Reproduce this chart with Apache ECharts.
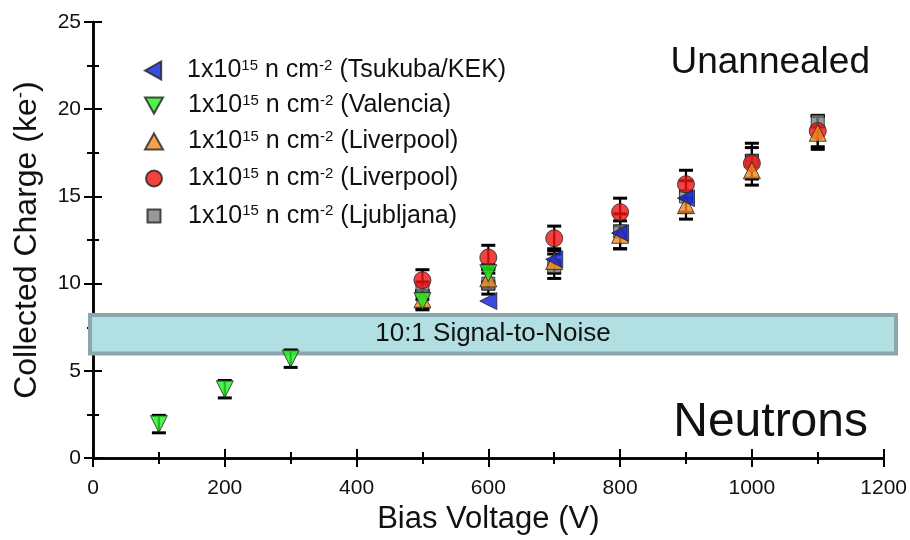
<!DOCTYPE html>
<html>
<head>
<meta charset="utf-8">
<script src="https://cdn.jsdelivr.net/npm/echarts@6/dist/echarts.min.js"></script>
<style>
html,body{margin:0;padding:0;background:#fff;}
#chart{width:910px;height:540px;}
</style>
</head>
<body>
<div id="chart"></div>
<script>
// ---- data ----
const xTicks = [0, 200, 400, 600, 800, 1000, 1200];
const yTicks = [0, 5, 10, 15, 20, 25];

const voltTsukuba = [600, 700, 800, 900];
const chargeTsukuba = [9.0, 11.4, 12.9, 14.9];
const errTsukuba = [0, 0, 0, 0];

const voltValencia = [100, 200, 300, 500, 600];
const chargeValencia = [1.95, 3.95, 5.7, 9.0, 10.6];
const errValencia = [0.5, 0.5, 0.5, 0.5, 0.5];

const voltLivOrange = [500, 600, 700, 800, 900, 1000, 1100];
const chargeLivOrange = [9.1, 10.3, 11.3, 12.8, 14.5, 16.5, 18.65];
const errLivOrange = [0.5, 0.6, 0.7, 0.8, 0.8, 0.85, 0.95];

const voltLivRed = [500, 600, 700, 800, 900, 1000, 1100];
const chargeLivRed = [10.2, 11.5, 12.6, 14.1, 15.7, 16.9, 18.75];
const errLivRed = [0.6, 0.7, 0.7, 0.8, 0.8, 0.9, 0.9];

const voltLjubljana = [500, 600, 700, 800, 900, 1000, 1100];
const chargeLjubljana = [9.6, 10.0, 11.0, 13.0, 15.0, 17.05, 19.3];
const errLjubljana = [0.5, 0.6, 0.7, 1.0, 0.9, 1.0, 0.3];

const legendLabels = {
  tsu: '(Tsukuba/KEK)',
  val: '(Valencia)',
  livO: '(Liverpool)',
  livR: '(Liverpool)',
  lju: '(Ljubljana)'
};
const bandRange = [6.0, 8.2];
const bandLabel = '10:1 Signal-to-Noise';
const textTop = 'Unannealed';
const textBottom = 'Neutrons';

// ---- build ----
const FONT = 'Liberation Sans, Arial, sans-serif';
function zip(xs, ys) { return xs.map((x, i) => [x, ys[i]]); }
function errData(xs, ys, es) {
  return xs.map((x, i) => [x, ys[i] - es[i], ys[i] + es[i]]).filter((d, i) => es[i] > 0);
}
function errRender(params, api) {
  const x = api.value(0), lo = api.value(1), hi = api.value(2);
  const a = api.coord([x, lo]), b = api.coord([x, hi]);
  const w = 7;
  const st = { stroke: '#000', lineWidth: 2.2 };
  return {
    type: 'group',
    children: [
      { type: 'line', shape: { x1: a[0], y1: a[1], x2: b[0], y2: b[1] }, style: st },
      { type: 'line', shape: { x1: a[0] - w, y1: a[1], x2: a[0] + w, y2: a[1] }, style: { stroke: '#000', lineWidth: 3 } },
      { type: 'line', shape: { x1: b[0] - w, y1: b[1], x2: b[0] + w, y2: b[1] }, style: { stroke: '#000', lineWidth: 3 } }
    ]
  };
}
function errSeries(xs, ys, es, z) {
  return {
    type: 'custom', renderItem: errRender, z: z, silent: true,
    encode: { x: 0, y: [1, 2] },
    data: errData(xs, ys, es)
  };
}
const symBorder = { borderColor: '#222', borderWidth: 1 };

const ICON_LEFT = 'path://M0,5 L9,0 L9,10 Z';
const ICON_DOWN = 'path://M0,0 L10,0 L5,9 Z';
const ICON_UP = 'path://M5,0 L10,9 L0,9 Z';
const rowTops = [53, 88, 124, 160, 196];
const legendIds = ['tsu', 'val', 'livO', 'livR', 'lju'];
const legendIcons = [ICON_LEFT, ICON_DOWN, ICON_UP, 'circle', 'rect'];
const legendSizes = [18, 18, 18, 16, 13];
const legends = legendIds.map((id, i) => {
  const left = 148 - legendSizes[i] / 2;
  return {
    data: [{ name: id, icon: legendIcons[i] }],
    left: left, top: rowTops[i] + (18 - legendSizes[i]) / 2,
    orient: 'vertical',
    itemWidth: legendSizes[i], itemHeight: legendSizes[i],
    selectedMode: false,
    formatter: function (n) { return '1x10{sup|15} n cm{sup|-2} ' + legendLabels[n]; },
    textStyle: {
      fontFamily: FONT, fontSize: 25, color: '#111',
      padding: [0, 0, 0, 182 - (left + legendSizes[i] + 5)],
      rich: { sup: { fontFamily: FONT, fontSize: 15, color: '#111', verticalAlign: 'top' } }
    }
  };
});

const option = {
  animation: false,
  backgroundColor: '#fff',
  grid: { left: 93, right: 14, top: 22, bottom: 79 },
  legend: legends,
  xAxis: [{
    type: 'value', min: 0, max: 1200, interval: 200,
    name: 'Bias Voltage (V)', nameLocation: 'middle', nameGap: 45,
    nameTextStyle: { fontFamily: FONT, fontSize: 31, color: '#111' },
    axisLine: { lineStyle: { color: '#000', width: 2.5 } },
    axisTick: { inside: true, length: 9, lineStyle: { color: '#000', width: 2 } },
    minorTick: { show: true, splitNumber: 2, length: 6, lineStyle: { color: '#000', width: 2 } },
    axisLabel: { fontFamily: FONT, fontSize: 21, color: '#111', margin: 20,
      formatter: v => (xTicks.indexOf(v) >= 0 ? String(v) : '') },
    splitLine: { show: false }
  }, {
    type: 'value', min: 0, max: 1200, interval: 200, position: 'top',
    axisLine: { lineStyle: { color: '#000', width: 2.5 } },
    axisTick: { inside: true, length: 9, lineStyle: { color: '#000', width: 2 } },
    minorTick: { show: true, splitNumber: 2, length: 6, lineStyle: { color: '#000', width: 2 } },
    axisLabel: { show: false }, splitLine: { show: false }
  }],
  yAxis: [{
    type: 'value', min: 0, max: 25, interval: 5,
    name: 'Collected Charge (ke{sup|-})', nameLocation: 'middle', nameGap: 50, nameRotate: 90,
    nameTextStyle: { fontFamily: FONT, fontSize: 32, color: '#111',
      rich: { sup: { fontFamily: FONT, fontSize: 19, color: '#111', verticalAlign: 'top' } } },
    axisLine: { lineStyle: { color: '#000', width: 2.5 } },
    axisTick: { inside: true, length: 9, lineStyle: { color: '#000', width: 2 } },
    minorTick: { show: true, splitNumber: 2, length: 6, lineStyle: { color: '#000', width: 2 } },
    axisLabel: { fontFamily: FONT, fontSize: 21, color: '#111', margin: 12,
      formatter: v => (yTicks.indexOf(v) >= 0 ? String(v) : '') },
    splitLine: { show: false }
  }, {
    type: 'value', min: 0, max: 25, interval: 5, position: 'right',
    axisLine: { lineStyle: { color: '#000', width: 2.5 } },
    axisTick: { inside: true, length: 9, lineStyle: { color: '#000', width: 2 } },
    minorTick: { show: true, splitNumber: 2, length: 6, lineStyle: { color: '#000', width: 2 } },
    axisLabel: { show: false }, splitLine: { show: false }
  }],
  graphic: [
    { type: 'text', right: 40, top: 44, style: { text: textTop, fontFamily: FONT, fontSize: 37, fill: '#111' } },
    { type: 'text', right: 42, top: 399, style: { text: textBottom, fontFamily: FONT, fontSize: 48, fill: '#111' } }
  ],
  series: [
    errSeries(voltLjubljana, chargeLjubljana, errLjubljana, 2),
    errSeries(voltLivRed, chargeLivRed, errLivRed, 2),
    errSeries(voltLivOrange, chargeLivOrange, errLivOrange, 2),
    errSeries(voltValencia, chargeValencia, errValencia, 2),
    {
      name: 'lju', type: 'scatter', z: 3, symbol: 'rect', symbolSize: 13,
      itemStyle: Object.assign({ color: '#7f7f7f' }, symBorder),
      data: zip(voltLjubljana, chargeLjubljana)
    },
    {
      name: 'livR', type: 'scatter', z: 4, symbol: 'circle', symbolSize: 17,
      itemStyle: Object.assign({ color: '#ee1111' }, symBorder),
      data: zip(voltLivRed, chargeLivRed)
    },
    {
      name: 'livO', type: 'scatter', z: 5, symbol: 'triangle', symbolSize: 17,
      itemStyle: Object.assign({ color: '#f28a1e' }, symBorder),
      data: zip(voltLivOrange, chargeLivOrange)
    },
    {
      name: 'val', type: 'scatter', z: 6, symbol: 'triangle', symbolRotate: 180, symbolSize: 17,
      itemStyle: Object.assign({ color: '#22ee22' }, symBorder),
      data: zip(voltValencia, chargeValencia),
      markArea: {
        silent: true, z: 1,
        itemStyle: { color: '#b2dfe1', borderColor: '#8aa8ac', borderWidth: 4 },
        label: { show: true, position: 'inside', fontFamily: FONT, fontSize: 26, color: '#111' },
        data: [[{ yAxis: bandRange[0], x: 90, name: bandLabel }, { yAxis: bandRange[1], x: 896 }]]
      }
    },
    {
      name: 'tsu', type: 'scatter', z: 7, symbol: 'triangle', symbolRotate: 90, symbolSize: 17,
      itemStyle: Object.assign({ color: '#0a1ed2' }, symBorder),
      data: zip(voltTsukuba, chargeTsukuba)
    }
  ]
};
const chart = echarts.init(document.getElementById('chart'), null, { renderer: 'canvas' });
chart.setOption(option);
</script>
</body>
</html>
